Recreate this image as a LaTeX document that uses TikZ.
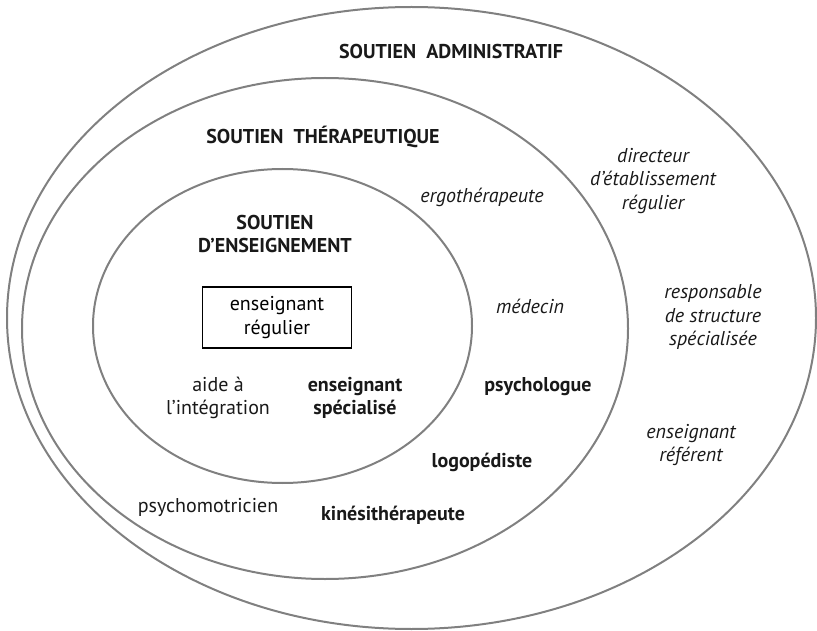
\documentclass[tikz,border=0pt]{standalone}
\usepackage{fontspec}
\setmainfont{PT Sans}
\begin{document}
\begin{tikzpicture}[x=1pt,y=-1pt,
  ring/.style={draw=black!50,line width=2pt},
  txt/.style={font=\fontsize{20}{23.5}\selectfont,align=center,inner sep=0pt,text=black!90},
  bl/.style={txt,font=\fontsize{20}{23.5}\selectfont\bfseries},
  it/.style={txt,font=\fontsize{20}{23.5}\selectfont\itshape},
  boxed/.style={draw=black,line width=1.3pt,minimum width=149pt,minimum height=61pt,inner sep=0pt,font=\fontsize{20}{23.5}\selectfont,align=center}]
\useasboundingbox (0,0) rectangle (817,631);
\draw[ring] (411.5,318) ellipse [x radius=404.5pt, y radius=311pt];
\draw[ring] (325,328.5) ellipse [x radius=303pt, y radius=250.5pt];
\draw[ring] (282.5,326) ellipse [x radius=189.5pt, y radius=157pt];

\node[bl] (admin) at (451,52) {SOUTIEN\ \ ADMINISTRATIF};
\node[bl] (thera) at (323,137) {SOUTIEN\enspace THÉRAPEUTIQUE};
\node[bl] (ens) at (275,234) {SOUTIEN\\D’ENSEIGNEMENT};
\node[boxed] (reg) at (277,317.5) {enseignant\\régulier};
\node[txt] (aide) at (218,398) {aide à\\l’intégration};
\node[bl] (spec) at (355,398) {enseignant\\spécialisé};
\node[it] (ergo) at (482,197) {ergothérapeute};
\node[it] (med) at (530,306) {médecin};
\node[bl] (psy) at (538,387) {psychologue};
\node[bl] (logo) at (482,462) {logopédiste};
\node[bl] (kine) at (393,515) {kinésithérapeute};
\node[txt] (pmot) at (208,507) {psychomotricien};
\node[it] (dir) at (653,181) {directeur\\d’établissement\\régulier};
\node[it] (resp) at (713,317) {responsable\\de structure\\spécialisée};
\node[it] (ref) at (691,445) {enseignant\\référent};
\end{tikzpicture}
\end{document}
